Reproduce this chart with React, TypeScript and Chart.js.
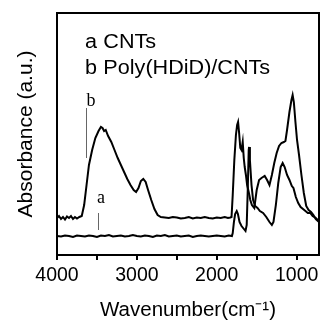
import React, { useEffect, useRef } from "react";
import { Chart, registerables } from "chart.js";

Chart.register(...registerables);

// Wavenumbers (cm^-1) and absorbance (a.u.)
const waveA = [
  4000, 3950, 3900, 3850, 3800, 3750, 3700, 3650, 3600, 3550, 3500, 3450, 3400, 3350, 3300,
  3250, 3200, 3150, 3100, 3050, 3000, 2950, 2900, 2850, 2800, 2750, 2700, 2650, 2600, 2550,
  2500, 2450, 2400, 2350, 2300, 2250, 2200, 2150, 2100, 2050, 2000, 1950, 1900, 1850, 1810,
  1800, 1785, 1770, 1750, 1735, 1715, 1690, 1660, 1640, 1625, 1612, 1600, 1595, 1585, 1565,
  1545, 1520, 1490, 1460, 1420, 1380, 1340, 1310, 1290, 1260, 1230, 1200, 1175, 1150, 1120,
  1090, 1060, 1040, 1010, 980, 950, 920, 890, 860, 830, 800, 760, 720,
];
const absA = [
  19, 18.5, 19.5, 19, 18, 19.5, 19, 18.5, 19.5, 19, 18, 19.5, 19, 20, 18.5,
  19, 19.5, 18.5, 19, 20, 19, 18.5, 19.5, 19, 18, 19.5, 19, 20, 18.5,
  19, 19.5, 18.5, 19, 19.5, 18, 19, 19.5, 19, 18.5, 19, 19.5, 19, 18.5, 19.5, 19,
  22, 33, 41, 44, 41, 33, 29, 26, 24, 30, 65, 105, 108, 95, 70,
  55, 49, 47, 44, 42, 38, 33, 30, 33, 50, 72, 88, 92, 88, 80,
  75, 69, 67, 58, 52, 48, 46, 44, 42, 42, 39, 37, 34,
];

const waveB = [
  4000, 3975, 3950, 3925, 3900, 3875, 3850, 3825, 3800, 3775, 3750, 3720, 3690, 3660, 3630,
  3600, 3560, 3520, 3480, 3450, 3430, 3410, 3390, 3360, 3320, 3280, 3240, 3200, 3160, 3120,
  3080, 3040, 3010, 2980, 2950, 2920, 2890, 2860, 2820, 2780, 2740, 2700, 2650, 2600, 2550,
  2500, 2450, 2400, 2350, 2300, 2250, 2200, 2150, 2100, 2050, 2000, 1950, 1900, 1860, 1830,
  1815, 1800, 1780, 1760, 1745, 1733, 1720, 1705, 1690, 1675, 1662, 1650, 1635, 1620, 1600,
  1580, 1560, 1530, 1500, 1470, 1440, 1400, 1370, 1340, 1310, 1280, 1250, 1220, 1190, 1160,
  1140, 1120, 1090, 1065, 1050, 1035, 1015, 995, 970, 940, 910, 880, 850, 820, 790,
  760, 720,
];
const absB = [
  37, 39, 36, 38, 35.5, 38.5, 37, 39, 36, 38, 36.5, 38, 39, 50, 70,
  90, 105, 117, 124, 128, 127, 124, 125, 119, 113, 105, 97, 90, 83, 76,
  70, 65, 63, 67, 74, 76, 73, 65, 55, 46, 40, 38, 37.5, 37, 38,
  37.5, 36.5, 37, 38, 36.5, 37.5, 37, 38, 37, 36.5, 37.5, 37, 38, 37, 37.5,
  38, 60, 95, 120, 130, 133, 122, 107, 105, 113, 97, 88, 80, 70, 63,
  55, 50, 47, 65, 75, 77, 79, 75, 70, 80, 92, 102, 109, 112, 113,
  114, 125, 143, 155, 160, 153, 133, 115, 100, 80, 62, 49, 45, 43, 40,
  36, 33,
];

// Axis ticks (every 500 marked, every 1000 labelled)
const xTickValues = [4000, 3500, 3000, 2500, 2000, 1500, 1000];

// Legend lines and curve markers
const legendKeys = ["a", "b"];
const legendNames = ["CNTs", "Poly(HDiD)/CNTs"];
const markerLabels = ["b", "a"];
const markerWave = [3637, 3487];
const markerTop = [147, 42];
const markerBottom = [97, 25];
const markerLabelWave = [3630, 3500];
const markerLabelValue = [149, 52];

const SANS = "'Liberation Sans', Arial, sans-serif";
const SERIF = "'Liberation Serif', 'Times New Roman', serif";

export default function App() {
  const canvasRef = useRef<HTMLCanvasElement | null>(null);

  useEffect(() => {
    const canvas = canvasRef.current;
    if (!canvas) return;

    const overlay = {
      id: "overlay",
      afterDraw(chart: any) {
        const { ctx, chartArea } = chart;
        const xs = chart.scales.x;
        const ys = chart.scales.y;
        ctx.save();
        // frame
        ctx.strokeStyle = "#000";
        ctx.lineWidth = 2;
        ctx.strokeRect(chartArea.left, chartArea.top, chartArea.right - chartArea.left, chartArea.bottom - chartArea.top);
        // legend text
        ctx.fillStyle = "#000";
        ctx.font = `20px ${SANS}`;
        ctx.textBaseline = "middle";
        ctx.textAlign = "left";
        legendKeys.forEach((k, i) => {
          const y = chartArea.top + 29 + i * 26;
          ctx.save();
          ctx.translate(chartArea.left + 28, y);
          ctx.scale(1.08, 1);
          ctx.fillText(k, 0, 0);
          ctx.fillText(legendNames[i], 17, 0);
          ctx.restore();
        });
        // markers
        markerLabels.forEach((lab, i) => {
          const x = xs.getPixelForValue(markerWave[i]);
          const yt = ys.getPixelForValue(markerTop[i]);
          const yb = ys.getPixelForValue(markerBottom[i]);
          ctx.strokeStyle = "#666";
          ctx.lineWidth = 1;
          ctx.beginPath();
          ctx.moveTo(Math.round(x) + 0.5, yt);
          ctx.lineTo(Math.round(x) + 0.5, yb);
          ctx.stroke();
          ctx.fillStyle = "#000";
          ctx.font = `18px ${SERIF}`;
          ctx.textAlign = "left";
          ctx.textBaseline = "alphabetic";
          ctx.fillText(lab, xs.getPixelForValue(markerLabelWave[i]), ys.getPixelForValue(markerLabelValue[i]));
        });
        ctx.restore();
      },
    };

    const chart = new Chart(canvas, {
      type: "line",
      data: {
        datasets: [
          {
            label: "a CNTs",
            data: waveA.map((w, i) => ({ x: w, y: absA[i] })),
            borderColor: "#000",
            borderWidth: 2,
            pointRadius: 0,
            tension: 0,
          },
          {
            label: "b Poly(HDiD)/CNTs",
            data: waveB.map((w, i) => ({ x: w, y: absB[i] })),
            borderColor: "#000",
            borderWidth: 2,
            pointRadius: 0,
            tension: 0,
          },
        ],
      },
      options: {
        responsive: false,
        animation: false,
        devicePixelRatio: 1,
        layout: { padding: { top: 13, right: 12, left: 0, bottom: 0 } },
        plugins: { legend: { display: false }, tooltip: { enabled: false } },
        scales: {
          x: {
            type: "linear",
            reverse: true,
            min: 720,
            max: 4000,
            afterBuildTicks(scale: any) {
              scale.ticks = xTickValues.map((v) => ({ value: v }));
            },
            afterFit(scale: any) {
              scale.height = 70;
            },
            ticks: {
              autoSkip: false,
              maxRotation: 0,
              color: "#000",
              padding: 4,
              font: { family: SANS, size: 19.5 },
              callback: (v: any) => (Number(v) % 1000 === 0 ? String(v) : ""),
            },
            grid: { drawOnChartArea: false, drawTicks: true, tickLength: 5, color: "#000", lineWidth: 2 },
            border: { display: true, color: "#000", width: 2 },
            title: {
              display: true,
              text: "Wavenumber(cm⁻¹)",
              color: "#000",
              font: { family: SANS, size: 20.5 },
              padding: { top: 0, bottom: 2 },
            },
          },
          y: {
            type: "linear",
            min: 0,
            max: 242,
            ticks: { display: false },
            grid: { display: false },
            border: { display: true, color: "#000", width: 2 },
            afterFit(scale: any) {
              scale.width = 57;
            },
            title: {
              display: true,
              text: "Absorbance (a.u.)",
              color: "#000",
              font: { family: SANS, size: 21 },
              padding: { top: 14, bottom: 0 },
            },
          },
        },
      },
      plugins: [overlay],
    });

    return () => chart.destroy();
  }, []);

  return (
    <div style={{ position: "absolute", left: 0, top: 0, width: 331, height: 325, background: "#fff" }}>
      <canvas ref={canvasRef} width={331} height={325} />
    </div>
  );
}
